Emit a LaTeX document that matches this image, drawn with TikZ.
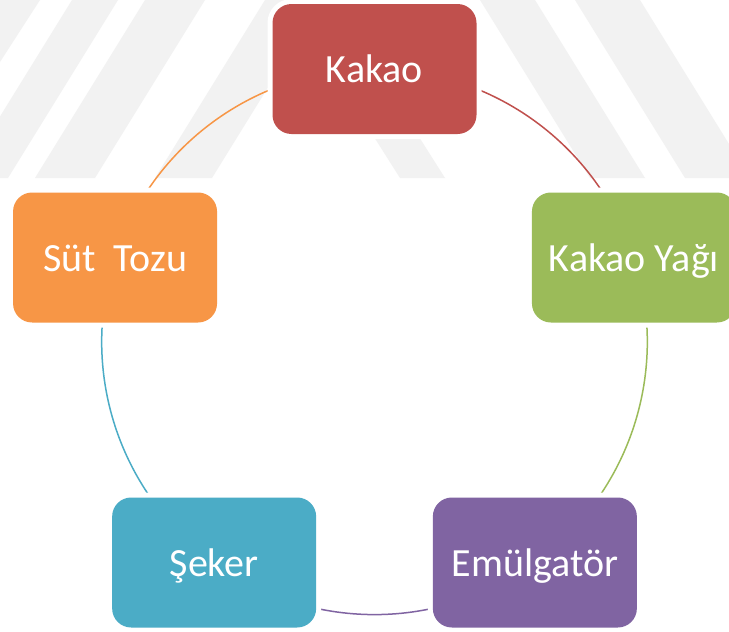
\documentclass[tikz,border=0pt]{standalone}
\usepackage{fontspec}
\setmainfont{Carlito}
\usetikzlibrary{calc}
\definecolor{ckakao}{HTML}{C0504D}
\definecolor{cyagi}{HTML}{9BBB59}
\definecolor{cemul}{HTML}{8064A2}
\definecolor{cseker}{HTML}{4BACC6}
\definecolor{csut}{HTML}{F79646}
\definecolor{cwm}{HTML}{F2F2F2}
\pgfdeclarelayer{wm}
\pgfdeclarelayer{arcs}
\pgfsetlayers{wm,arcs,main}
\begin{document}
\begin{tikzpicture}[x=1pt,y=-1pt,
  box/.style={rounded corners=19pt, minimum width=204pt, minimum height=130pt,
    inner sep=0pt, text=white, text height=27pt, text depth=0pt,
    font=\fontsize{40}{48}\selectfont,
    preaction={draw=white, line width=10pt}},
  link/.style={line width=1.5pt},
  wmband/.style={fill=cwm}]
\useasboundingbox (0,0) rectangle (729,632);
\clip (0,0) rectangle (729,632);
\coordinate (c) at (374.5,341.8);
\def\R{272.8}
% watermark
\begin{pgfonlayer}{wm}
  \fill[white] (0,0) rectangle (729,632);
  \fill[wmband] (0,0) -- (40,0) -- (0,62) -- cycle;
  \fill[wmband] (72,0) -- (118,0) -- (8,178) -- (-38,178) -- cycle;
  \fill[wmband] (145,0) -- (205,0) -- (95,178) -- (35,178) -- cycle;
  \fill[wmband] (265,0) -- (322,0) -- (212,178) -- (155,178) -- cycle;
  \fill[wmband] (300,20) -- (345,20) -- (445,178) -- (400,178) -- cycle;
  \fill[wmband] (480,0) -- (535,0) -- (645,178) -- (590,178) -- cycle;
  \fill[wmband] (575,0) -- (640,0) -- (750,178) -- (685,178) -- cycle;
\end{pgfonlayer}
% boxes
\node[box, fill=ckakao] (kakao) at ($(c)+(-90:\R)$) {Kakao};
\node[box, fill=cyagi]  (yagi)  at ($(c)+(-18:\R)$) {Kakao Yağı};
\node[box, fill=cemul]  (emul)  at ($(c)+(54:\R)$)  {Emülgatör};
\node[box, fill=cseker] (seker) at ($(c)+(126:\R)$) {Şeker};
\node[box, fill=csut]   (sut)   at ($(c)+(198:\R)$) {Süt~ Tozu};
% connectors
\begin{pgfonlayer}{arcs}
  \draw[link, ckakao] (kakao.center) arc[start angle=-90, end angle=-18, radius=\R];
  \draw[link, cyagi]  (yagi.center)  arc[start angle=-18, end angle=54,  radius=\R];
  \draw[link, cemul]  (emul.center)  arc[start angle=54,  end angle=126, radius=\R];
  \draw[link, cseker] (seker.center) arc[start angle=126, end angle=198, radius=\R];
  \draw[link, csut]   (sut.center)   arc[start angle=198, end angle=270, radius=\R];
\end{pgfonlayer}
\end{tikzpicture}
\end{document}
